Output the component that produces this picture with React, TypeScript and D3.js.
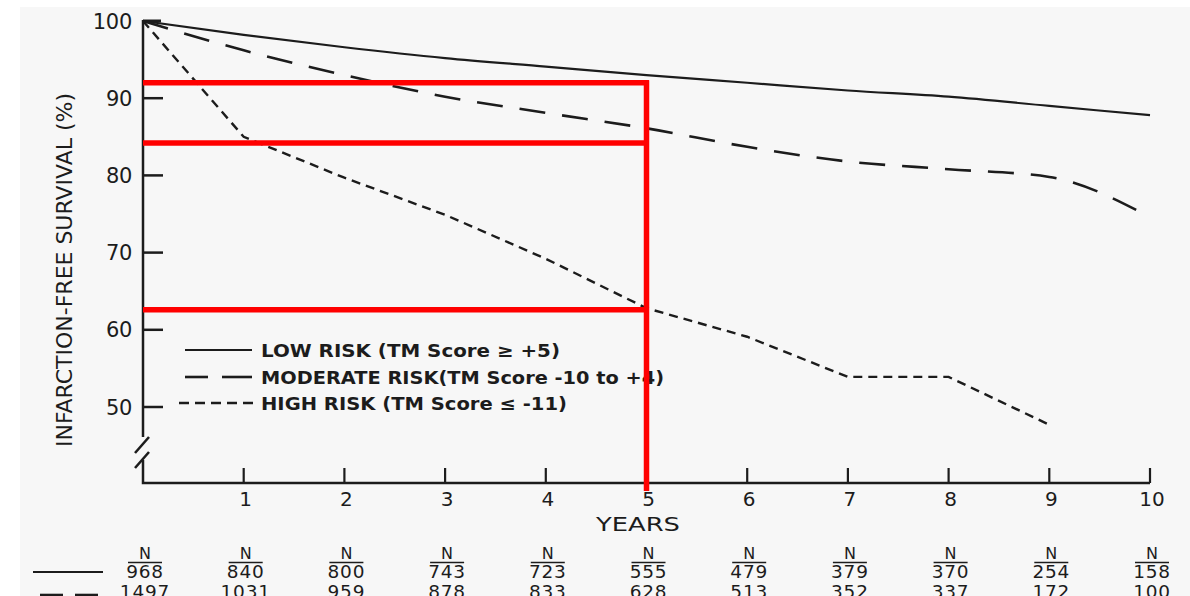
import React from "react";
import * as d3 from "d3";

const years = [0, 1, 2, 3, 4, 5, 6, 7, 8, 9, 10];
const lowRisk = [100, 98.2, 96.6, 95.2, 94.1, 93.0, 92.0, 91.0, 90.2, 89.0, 87.8];
const moderateRisk = [100, 96.2, 93.0, 90.2, 88.1, 86.1, 83.7, 81.8, 80.8, 79.8, 74.6];
const highRisk = [100, 85.0, 79.7, 74.9, 69.2, 62.8, 59.1, 53.9, 53.9, 47.7];
const yTicks = [50, 60, 70, 80, 90, 100];
const xTicks = [1, 2, 3, 4, 5, 6, 7, 8, 9, 10];
const nLow = [968, 840, 800, 743, 723, 555, 479, 379, 370, 254, 158];
const nModerate = [1497, 1031, 959, 878, 833, 628, 513, 352, 337, 172, 100];
const markYear = 5;
const markValues = [92.0, 84.2, 62.6];
const legendLabels = [
  "LOW RISK (TM Score \u2265 +5)",
  "MODERATE RISK(TM Score -10 to +4)",
  "HIGH RISK (TM Score \u2264 -11)",
];

const INK = "#1c1c1c";
const FONT = "'DejaVu Sans', sans-serif";
const MOD_DASH = "26,17";
const HIGH_DASH = "9,6";

export default function App() {
  const x = d3.scaleLinear().domain([0, 10]).range([143, 1150]);
  const y = d3.scaleLinear().domain([50, 100]).range([407, 21]);
  const axisY = 483;

  const line = d3
    .line<number>()
    .x((_, i) => x(years[i]))
    .y((d) => y(d))
    .curve(d3.curveMonotoneX);
  const lineLin = d3
    .line<number>()
    .x((_, i) => x(years[i]))
    .y((d) => y(d));

  const legendRows = [
    { y: 350, len: 299 },
    { y: 377, len: 403 },
    { y: 403, len: 306 },
  ];

  const x0 = x(0);
  const redX = x(markYear);

  return (
    <svg
      width={1190}
      height={596}
      style={{ position: "absolute", left: 0, top: 0, overflow: "hidden" }}
      fontFamily={FONT}
    >
      <rect x={0} y={0} width={1190} height={596} fill="#ffffff" />
      <rect x={20} y={7} width={1170} height={589} fill="#f7f7f7" />

      {/* Y axis with break */}
      <line x1={x0} y1={y(100) - 1} x2={x0} y2={437} stroke={INK} strokeWidth={2.5} />
      <line x1={135} y1={453} x2={149} y2={437} stroke={INK} strokeWidth={2.5} />
      <line x1={135} y1={468} x2={149} y2={452} stroke={INK} strokeWidth={2.5} />
      <path
        d={`M${x0},460 L${x0},${axisY} L${x(10)},${axisY}`}
        fill="none"
        stroke={INK}
        strokeWidth={2.5}
      />
      {yTicks.map((t) => (
        <g key={t}>
          {t !== 100 && (
            <line x1={x0} y1={y(t)} x2={x0 + 20} y2={y(t)} stroke={INK} strokeWidth={2.5} />
          )}
          <text
            x={132}
            y={y(t) + 7.5}
            textAnchor="end"
            fontSize={21}
            fill={INK}
            letterSpacing={-0.3}
          >
            {t}
          </text>
        </g>
      ))}
      <line x1={x0} y1={y(100)} x2={x0 + 18} y2={y(100)} stroke={INK} strokeWidth={3} />

      {/* X axis ticks */}
      {xTicks.map((t) => (
        <g key={t}>
          <line x1={x(t)} y1={axisY} x2={x(t)} y2={axisY - 15} stroke={INK} strokeWidth={2.2} />
          <text x={x(t) + 2} y={506} textAnchor="middle" fontSize={20} fill={INK}>
            {t}
          </text>
        </g>
      ))}
      <text
        x={638}
        y={531}
        textAnchor="middle"
        fontSize={19}
        fill={INK}
        textLength={84}
        lengthAdjust="spacingAndGlyphs"
      >
        YEARS
      </text>

      {/* Y axis title */}
      <text
        transform="translate(72,270) rotate(-90)"
        textAnchor="middle"
        fontSize={21}
        fill={INK}
        textLength={354}
        lengthAdjust="spacingAndGlyphs"
      >
        INFARCTION-FREE SURVIVAL (%)
      </text>

      {/* Curves */}
      <path d={line(lowRisk) || ""} fill="none" stroke={INK} strokeWidth={2.2} />
      <path
        d={line(moderateRisk) || ""}
        fill="none"
        stroke={INK}
        strokeWidth={2.6}
        strokeDasharray={MOD_DASH}
      />
      <path
        d={lineLin(highRisk) || ""}
        fill="none"
        stroke={INK}
        strokeWidth={2.4}
        strokeDasharray={HIGH_DASH}
      />

      {/* Legend */}
      {legendRows.map((r, i) => (
        <g key={i}>
          {i === 0 && <line x1={185} y1={r.y} x2={252} y2={r.y} stroke={INK} strokeWidth={2.2} />}
          {i === 1 && (
            <>
              <line x1={185} y1={r.y} x2={208} y2={r.y} stroke={INK} strokeWidth={2.6} />
              <line x1={222} y1={r.y} x2={252} y2={r.y} stroke={INK} strokeWidth={2.6} />
            </>
          )}
          {i === 2 && (
            <line
              x1={179}
              y1={r.y}
              x2={253}
              y2={r.y}
              stroke={INK}
              strokeWidth={2.4}
              strokeDasharray="10,6"
            />
          )}
          <text
            x={261}
            y={r.y + 7}
            fontSize={18}
            fontWeight={600}
            fill={INK}
            textLength={r.len}
            lengthAdjust="spacingAndGlyphs"
          >
            {legendLabels[i]}
          </text>
        </g>
      ))}

      {/* Red annotation lines */}
      {markValues.map((v, i) => (
        <line
          key={i}
          x1={x0}
          y1={y(v)}
          x2={redX + 2.5}
          y2={y(v)}
          stroke="#ff0000"
          strokeWidth={5.5}
        />
      ))}
      <line
        x1={redX}
        y1={y(markValues[0]) - 2.5}
        x2={redX}
        y2={491}
        stroke="#ff0000"
        strokeWidth={5.5}
      />

      {/* Numbers at risk table */}
      <line x1={33} y1={572} x2={103} y2={572} stroke={INK} strokeWidth={2.2} />
      <line x1={40} y1={595} x2={63} y2={595} stroke={INK} strokeWidth={2.6} />
      <line x1={75} y1={595} x2={98} y2={595} stroke={INK} strokeWidth={2.6} />
      {years.map((yr, i) => {
        const cx = x(yr) + 2;
        return (
          <g key={yr}>
            <text x={cx} y={559} textAnchor="middle" fontSize={16} fill={INK}>
              N
            </text>
            <line x1={cx - 17} y1={562.5} x2={cx + 17} y2={562.5} stroke={INK} strokeWidth={1.6} />
            <text x={cx} y={578} textAnchor="middle" fontSize={18.5} fill={INK} letterSpacing={0.8}>
              {nLow[i]}
            </text>
            <text x={cx} y={598} textAnchor="middle" fontSize={18.5} fill={INK} letterSpacing={0.8}>
              {nModerate[i]}
            </text>
          </g>
        );
      })}
    </svg>
  );
}
